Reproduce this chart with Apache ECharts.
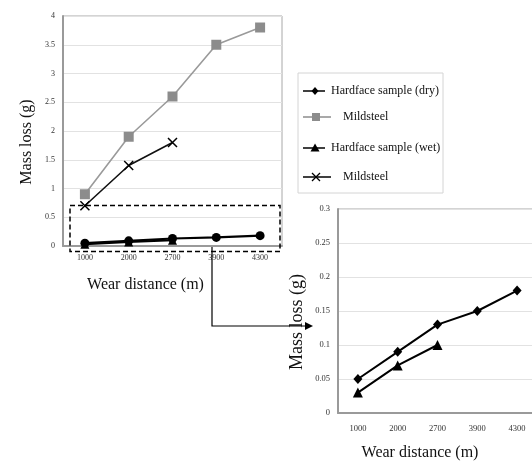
<!DOCTYPE html>
<html><head><meta charset="utf-8">
<script src="https://cdn.jsdelivr.net/npm/echarts@6/dist/echarts.min.js"></script>
<style>html,body{margin:0;padding:0;background:#fff}#c{width:532px;height:461px}</style>
</head><body><div id="c"></div>
<script>
const categories = ['1000', '2000', '2700', '3900', '4300'];
const hardfaceDry = [0.05, 0.09, 0.13, 0.15, 0.18];
const mildsteelDry = [0.9, 1.9, 2.6, 3.5, 3.8];
const hardfaceWet = [0.03, 0.07, 0.10];
const mildsteelWet = [0.7, 1.4, 1.8];
const legendLabels = ['Hardface sample (dry)', 'Mildsteel', 'Hardface sample (wet)', 'Mildsteel'];
const xTitle = 'Wear distance (m)';
const yTitle = 'Mass loss (g)';

const FONT = 'Liberation Serif';
const crossPath = 'path://M0,0L10,10M10,0L0,10';
const chart = echarts.init(document.getElementById('c'), null, {renderer: 'canvas'});

function xAxisCfg(gridIndex, labelSize, margin, gap, pad) {
  return {
    type: 'category', gridIndex, data: categories, boundaryGap: true,
    axisLine: {show: true, lineStyle: {color: '#9a9a9a', width: 2}},
    axisTick: {show: false},
    axisLabel: {fontFamily: FONT, fontSize: labelSize, color: '#333', margin},
    name: xTitle, nameLocation: 'middle', nameGap: gap,
    nameTextStyle: {fontFamily: FONT, fontSize: 16, color: '#111', padding: pad}
  };
}
function yAxisCfg(gridIndex, max, interval, labelSize, gap, nameSize, pad) {
  return {
    type: 'value', gridIndex, min: 0, max, interval,
    axisLine: {show: true, lineStyle: {color: '#9a9a9a', width: 2}},
    axisTick: {show: false},
    splitLine: {show: true, lineStyle: {color: '#e2e2e2', width: 1}},
    axisLabel: {fontFamily: FONT, fontSize: labelSize, color: '#333', margin: 8},
    name: yTitle, nameLocation: 'middle', nameGap: gap,
    nameTextStyle: {fontFamily: FONT, fontSize: nameSize, color: '#111', padding: pad}
  };
}

// legend drawn as graphic (two entries share the name "Mildsteel")
const legendY = [91, 117, 148, 177];
const legendTextX = [331, 343, 331, 343];
const legendGraphic = [
  {type: 'rect', shape: {x: 298, y: 73, width: 145, height: 120},
   style: {fill: '#fff', stroke: '#d4d4d4', lineWidth: 1}, z: 50}
];
function legendSymbol(i, y) {
  const els = [];
  const col = i === 1 ? '#8c8c8c' : '#000';
  const x0 = 303, x1 = i % 2 === 1 ? 331 : 325, cx = i % 2 === 1 ? 316 : 315;
  els.push({type: 'line', shape: {x1: x0, y1: y, x2: x1, y2: y}, style: {stroke: col, lineWidth: 1.5}, z: 51});
  if (i === 0) els.push({type: 'polygon', shape: {points: [[cx, y - 4], [cx + 3.5, y], [cx, y + 4], [cx - 3.5, y]]}, style: {fill: '#000'}, z: 52});
  if (i === 1) els.push({type: 'rect', shape: {x: cx - 4, y: y - 4, width: 8, height: 8}, style: {fill: '#8c8c8c'}, z: 52});
  if (i === 2) els.push({type: 'polygon', shape: {points: [[cx, y - 4.5], [cx + 4.5, y + 3.5], [cx - 4.5, y + 3.5]]}, style: {fill: '#000'}, z: 52});
  if (i === 3) {
    els.push({type: 'line', shape: {x1: cx - 4, y1: y - 4, x2: cx + 4, y2: y + 4}, style: {stroke: '#000', lineWidth: 1.3}, z: 52});
    els.push({type: 'line', shape: {x1: cx + 4, y1: y - 4, x2: cx - 4, y2: y + 4}, style: {stroke: '#000', lineWidth: 1.3}, z: 52});
  }
  return els;
}
legendLabels.forEach((t, i) => {
  legendGraphic.push(...legendSymbol(i, legendY[i]));
  legendGraphic.push({type: 'text', x: legendTextX[i], y: legendY[i],
    style: {text: t, fontFamily: FONT, fontSize: 12, fill: '#111', verticalAlign: 'middle', align: 'left'}, z: 52});
});

const option = {
  backgroundColor: '#fff',
  animation: false,
  grid: [
    {left: 63, top: 16, width: 219, height: 230, show: true, borderColor: '#a8a8a8', borderWidth: 1,
     containLabel: false, outerBoundsMode: 'none'},
    {left: 338, top: 209, width: 199, height: 204, show: true, borderColor: '#a8a8a8', borderWidth: 1,
     containLabel: false, outerBoundsMode: 'none'}
  ],
  xAxis: [
    xAxisCfg(0, 8, 8, 31, [0, 54, 0, 0]),
    xAxisCfg(1, 8.5, 11, 32, [0, 35, 0, 0])
  ],
  yAxis: [
    yAxisCfg(0, 4, 0.5, 8, 28, 16, [0, 22, 0, 0]),
    yAxisCfg(1, 0.3, 0.05, 8.5, 32, 18, [0, 22, 0, 0])
  ],
  series: [
    {name: 'Mildsteel (dry)', type: 'line', xAxisIndex: 0, yAxisIndex: 0, data: mildsteelDry,
     symbol: 'rect', symbolSize: 10, lineStyle: {color: '#9a9a9a', width: 1.6},
     itemStyle: {color: '#8c8c8c'}, z: 3},
    {name: 'Mildsteel (wet)', type: 'line', xAxisIndex: 0, yAxisIndex: 0, data: mildsteelWet,
     symbol: crossPath, symbolSize: 9, lineStyle: {color: '#111', width: 1.6},
     itemStyle: {color: '#000', borderColor: '#000', borderWidth: 1.5}, z: 3},
    {name: 'Hardface sample (wet)', type: 'line', xAxisIndex: 0, yAxisIndex: 0, data: hardfaceWet,
     symbol: 'triangle', symbolSize: 9, lineStyle: {color: '#000', width: 2},
     itemStyle: {color: '#000'}, z: 4},
    {name: 'Hardface sample (dry)', type: 'line', xAxisIndex: 0, yAxisIndex: 0, data: hardfaceDry,
     symbol: 'circle', symbolSize: 9, lineStyle: {color: '#000', width: 2.2},
     itemStyle: {color: '#000'}, z: 4},
    {name: 'Hardface sample (dry) inset', type: 'line', xAxisIndex: 1, yAxisIndex: 1, data: hardfaceDry,
     symbol: 'diamond', symbolSize: [9, 10], lineStyle: {color: '#000', width: 2},
     itemStyle: {color: '#000'}, z: 4},
    {name: 'Hardface sample (wet) inset', type: 'line', xAxisIndex: 1, yAxisIndex: 1, data: hardfaceWet,
     symbol: 'triangle', symbolSize: 10, lineStyle: {color: '#000', width: 2},
     itemStyle: {color: '#000'}, z: 4}
  ],
  graphic: [
    {type: 'rect', shape: {x: 70, y: 205.5, width: 210, height: 46},
     style: {fill: null, stroke: '#000', lineWidth: 1.5, lineDash: [5, 3]}, z: 40},
    {type: 'polyline', shape: {points: [[212, 247], [212, 326], [306, 326]]},
     style: {fill: null, stroke: '#000', lineWidth: 1.2}, z: 40},
    {type: 'polygon', shape: {points: [[305, 322], [313, 326], [305, 330]]},
     style: {fill: '#000'}, z: 40},
    ...legendGraphic
  ]
};
chart.setOption(option);
</script>
</body></html>
